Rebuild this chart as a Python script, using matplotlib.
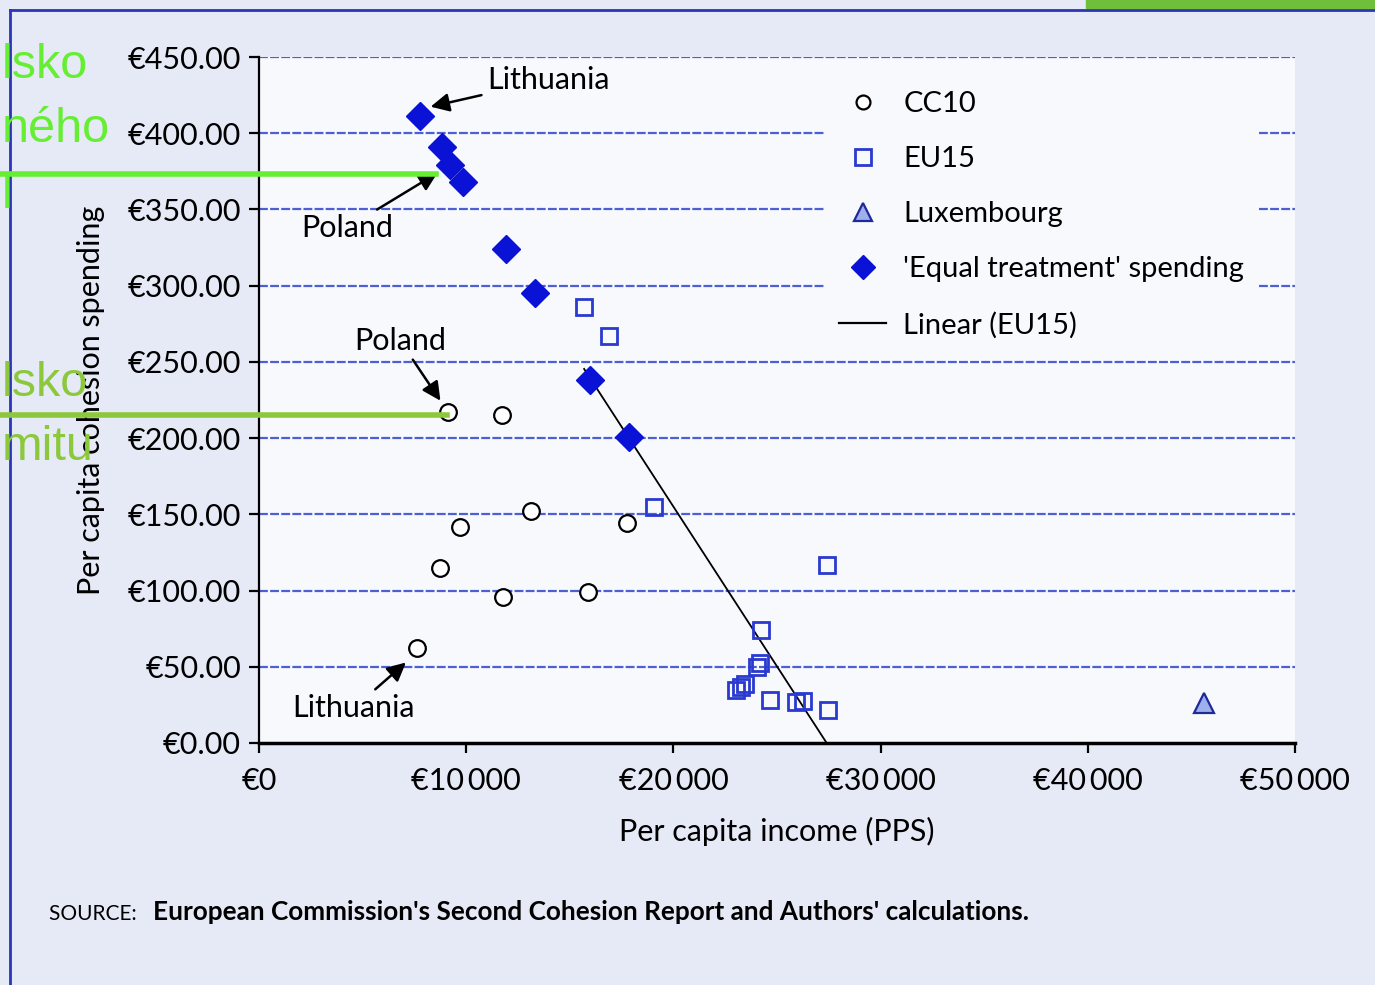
import numpy as np
import matplotlib.pyplot as plt
from matplotlib.patches import Rectangle
from matplotlib.lines import Line2D

# --- data ---
cc10_income = [9130, 11710, 9700, 13150, 8730, 11790, 15890, 17740, 7640]
cc10_spend = [217, 215, 142, 152, 115, 96, 99, 144, 62]

equal_income = [7770, 8810, 9210, 9860, 11920, 13310, 15970, 17850]
equal_spend = [411, 391, 379, 368, 324, 295, 238, 201]

eu15_income = [15690, 16880, 19060, 27390, 24250, 24200, 24010,
               23040, 23440, 23250, 24650, 25940, 26240, 27450]
eu15_spend = [286, 267, 155, 117, 74, 52.5, 50,
              35, 39, 37, 28, 27, 27.8, 21.6]

lux_income = [45630]
lux_spend = [26]

y_ticks = [0, 50, 100, 150, 200, 250, 300, 350, 400, 450]
y_labels = ["€0.00", "€50.00", "€100.00", "€150.00", "€200.00",
            "€250.00", "€300.00", "€350.00", "€400.00", "€450.00"]
x_ticks = [0, 10000, 20000, 30000, 40000, 50000]
x_labels = ["€0", "€10\u2009000", "€20\u2009000", "€30\u2009000",
            "€40\u2009000", "€50\u2009000"]

notes = ["Lithuania", "Poland", "Poland", "Lithuania"]
note_tip = [(8150, 417), (8730, 375), (8830, 223), (7190, 54)]
note_text = [(11000, 435), (4250, 338), (6800, 264), (4580, 23)]
note_ha = ["left", "center", "center", "center"]

FONT = ["Lato", "DejaVu Sans"]


def main():
    plt.rcParams["font.family"] = FONT
    fig = plt.figure(figsize=(13.75, 9.85), dpi=100, facecolor="#e6eaf6")
    ax = fig.add_axes([0.1884, 0.2457, 0.7534, 0.6964])
    ax.set_facecolor("#f8f9fd")

    # page photo edges
    fig.add_artist(Line2D([0.007, 0.007], [0, 0.99], color="#2a35b8", lw=2))
    fig.add_artist(Line2D([0.007, 1.0], [0.99, 0.99], color="#2a35b8", lw=2))
    fig.add_artist(Rectangle((0.79, 0.992), 0.21, 0.008, color="#6fbf3a"))

    # gridlines
    for yv in y_ticks[1:]:
        ax.axhline(yv, color="#4c5fd4", lw=1.6, ls=(0, (4, 1)), zorder=1)

    # trend line of EU15
    coef = np.polyfit(eu15_income, eu15_spend, 1)
    tx = np.array([min(eu15_income), max(eu15_income)])
    ax.plot(tx, np.polyval(coef, tx), color="black", lw=1.3, zorder=2)

    ax.plot(cc10_income, cc10_spend, "o", ms=12, mfc="white", mec="black",
            mew=1.6, zorder=3)
    ax.plot(eu15_income, eu15_spend, "s", ms=12, mfc="none", mec="#2a3ad0",
            mew=2, zorder=3)
    ax.plot(lux_income, lux_spend, "^", ms=15, mfc="#9eb0ec", mec="#1e2a9a",
            mew=1.6, zorder=3)
    ax.plot(equal_income, equal_spend, "D", ms=14, mfc="#0a12d6", mec="#0a12d6",
            zorder=4)

    for lab, tip, txt, ha in zip(notes, note_tip, note_text, note_ha):
        ax.annotate(lab, xy=tip, xytext=txt, ha=ha, va="center", fontsize=22,
                    arrowprops=dict(arrowstyle="-|>", color="black", lw=1.8,
                                    mutation_scale=28, shrinkA=2, shrinkB=2),
                    zorder=5)

    ax.set_xlim(0, 50000)
    ax.set_ylim(0, 450)
    ax.set_xticks(x_ticks)
    ax.set_xticklabels(x_labels, fontsize=22)
    ax.set_yticks(y_ticks)
    ax.set_yticklabels(y_labels, fontsize=22)
    ax.tick_params(axis="x", length=7, width=1.6, color="black", pad=10)
    ax.tick_params(axis="y", length=7, width=1.6, color="black", pad=6)
    for s in ["top", "right"]:
        ax.spines[s].set_visible(False)
    ax.spines["left"].set_linewidth(1.6)
    ax.spines["bottom"].set_linewidth(2.5)
    ax.set_xlabel("Per capita income (PPS)", fontsize=22, labelpad=16)
    ax.set_ylabel("Per capita cohesion spending", fontsize=22, labelpad=16)

    handles = [
        Line2D([], [], ls="none", marker="o", ms=10, mfc="white", mec="black", mew=1.6),
        Line2D([], [], ls="none", marker="s", ms=11, mfc="none", mec="#2a3ad0", mew=2),
        Line2D([], [], ls="none", marker="^", ms=13, mfc="#9eb0ec", mec="#1e2a9a", mew=1.6),
        Line2D([], [], ls="none", marker="D", ms=12, mfc="#0a12d6", mec="#0a12d6"),
        Line2D([], [], color="black", lw=1.6),
    ]
    labels = ["CC10", "EU15", "Luxembourg", "'Equal treatment' spending",
              "Linear (EU15)"]
    leg = ax.legend(handles, labels, loc="upper left", bbox_to_anchor=(0.532, 0.993),
                    fontsize=21, frameon=True, facecolor="#f8f9fd",
                    edgecolor="none", framealpha=1, handlelength=1.6,
                    handletextpad=0.6, labelspacing=1.0, borderpad=0.5)
    leg.set_zorder(6)

    fig.text(0.036, 0.066, "SOURCE: ", fontsize=15)
    fig.text(0.111, 0.066,
             "European Commission's Second Cohesion Report and Authors' calculations.",
             fontsize=18.8, fontweight="bold")

    # green overlay from the slide
    fig.add_artist(Line2D([0, 0.317], [1 - 174 / 985] * 2, color="#66ee33", lw=4))
    fig.add_artist(Line2D([0, 0.325], [1 - 415 / 985] * 2, color="#8cc83c", lw=4))
    g1 = dict(fontsize=35, color="#66ee33", family=["Liberation Sans", "DejaVu Sans"])
    g2 = dict(fontsize=35, color="#8cc83c", family=["Liberation Sans", "DejaVu Sans"])
    fig.text(0.001, 1 - 66 / 985, "lsko", va="center", **g1)
    fig.text(0.001, 1 - 130 / 985, "ného", va="center", **g1)
    fig.text(0.001, 1 - 195 / 985, "l", va="center", **g1)
    fig.text(0.001, 1 - 383 / 985, "lsko", va="center", **g2)
    fig.text(0.001, 1 - 447 / 985, "mitu", va="center", **g2)

    fig.savefig("out.png", dpi=100, facecolor=fig.get_facecolor())


if __name__ == "__main__":
    main()
